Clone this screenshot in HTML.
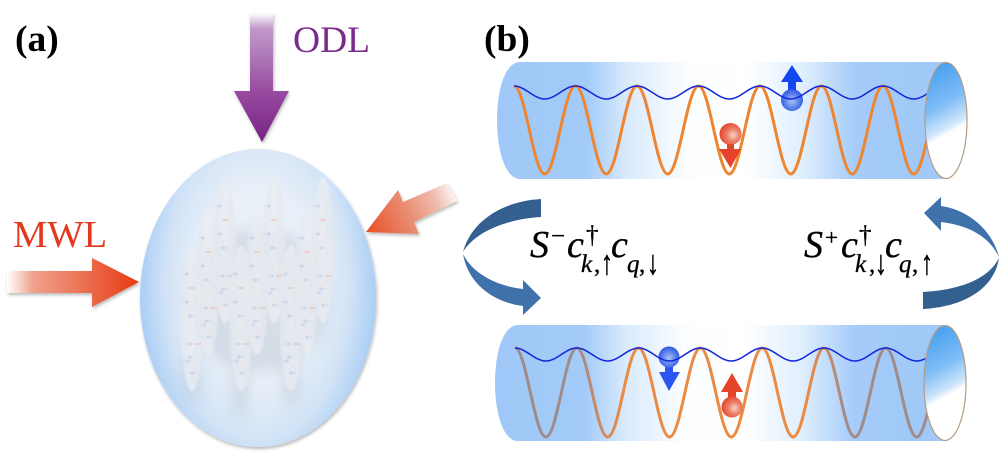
<!DOCTYPE html>
<html><head><meta charset="utf-8"><style>
html,body{margin:0;padding:0;background:#fff}
svg{display:block}
text{font-family:"Liberation Serif",serif}
.m{stroke:#000;stroke-width:.35}
</style></head><body>
<svg width="1000" height="456" viewBox="0 0 1000 456" xmlns="http://www.w3.org/2000/svg">
<defs>
<radialGradient id="egg" gradientUnits="userSpaceOnUse" cx="258" cy="285" r="1" gradientTransform="translate(258 285) scale(122 205) translate(-258 -285)">
<stop offset="0" stop-color="#eff3f8"/><stop offset=".5" stop-color="#e7eff8"/><stop offset=".76" stop-color="#d2e3f6"/><stop offset="1" stop-color="#a4cbf5"/>
</radialGradient>
<linearGradient id="cig" x1="0" y1="0" x2="1" y2="0"><stop offset="0" stop-color="#e4e8ee"/><stop offset=".5" stop-color="#ebeef3"/><stop offset="1" stop-color="#e2e7ed"/></linearGradient>
<linearGradient id="pur" gradientUnits="userSpaceOnUse" x1="0" y1="13" x2="0" y2="142"><stop offset="0" stop-color="#fff"/><stop offset=".12" stop-color="#c19acb"/><stop offset=".6" stop-color="#984c9f"/><stop offset="1" stop-color="#772287"/></linearGradient>
<linearGradient id="red1" gradientUnits="userSpaceOnUse" x1="7" y1="0" x2="139" y2="0"><stop offset="0" stop-color="#fff"/><stop offset=".2" stop-color="#f0a18b"/><stop offset="1" stop-color="#e63a12"/></linearGradient>
<linearGradient id="red2" gradientUnits="userSpaceOnUse" x1="457" y1="190" x2="366" y2="232"><stop offset="0" stop-color="#fff"/><stop offset=".25" stop-color="#efb9aa"/><stop offset=".55" stop-color="#e98c72"/><stop offset="1" stop-color="#e84f26"/></linearGradient>
<linearGradient id="tube" x1="0" y1="0" x2="1" y2="0">
<stop offset="0" stop-color="#9fc8f8"/><stop offset=".2" stop-color="#a3cbf9"/><stop offset=".29" stop-color="#d9eafc"/><stop offset=".42" stop-color="#fbfdff"/><stop offset=".55" stop-color="#fff"/><stop offset=".68" stop-color="#e0effd"/><stop offset=".8" stop-color="#a4cbf9"/><stop offset="1" stop-color="#9fc8f8"/>
</linearGradient>
<linearGradient id="cap" x1=".4" y1="0" x2=".6" y2="1"><stop offset="0" stop-color="#46a0f0"/><stop offset=".35" stop-color="#7fbdf6"/><stop offset=".56" stop-color="#cfe6fb"/><stop offset=".62" stop-color="#fff"/><stop offset="1" stop-color="#fff"/></linearGradient>
<linearGradient id="og" gradientUnits="userSpaceOnUse" x1="514" y1="0" x2="930" y2="0">
<stop offset="0" stop-color="#a08b8a"/><stop offset=".14" stop-color="#a08b8a"/><stop offset=".26" stop-color="#e98a45"/><stop offset=".7" stop-color="#ee8a40"/><stop offset=".8" stop-color="#a08b8a"/><stop offset="1" stop-color="#a08b8a"/>
</linearGradient>
<radialGradient id="bb" cx=".5" cy=".55" r=".55"><stop offset="0" stop-color="#a9c4f6"/><stop offset=".6" stop-color="#5a80ea"/><stop offset="1" stop-color="#2f55e4"/></radialGradient>
<radialGradient id="rb" cx=".62" cy=".55" r=".6"><stop offset="0" stop-color="#f8d0c4"/><stop offset=".5" stop-color="#ec7d66"/><stop offset="1" stop-color="#e3492f"/></radialGradient>
<filter id="sh" x="-20%" y="-20%" width="140%" height="140%"><feDropShadow dx="1" dy="2" stdDeviation="1.5" flood-color="#000" flood-opacity=".28"/></filter>
<filter id="b1" x="-50%" y="-20%" width="200%" height="140%"><feGaussianBlur stdDeviation=".7"/></filter>
<filter id="b2" x="-100%" y="-30%" width="300%" height="160%"><feGaussianBlur stdDeviation="7"/></filter>
<g id="cigar">
<ellipse cx="0" cy="0" rx="11.500" ry="73" fill="url(#cig)" opacity=".8" filter="url(#b1)"/>
<path d="M0,-55L6,-43L-1,-31L5,-19L-2,-7L5,5L-2,17L5,29L-2,41L4,53" fill="none" stroke="#f0c8b4" stroke-width=".6" opacity=".25"/>
<g fill="#a9bde8" opacity=".4">
<circle cx="-5" cy="-44" r="1.8"/><rect x="-10" y="-44.500" width="5" height="1"/>
<circle cx="-5" cy="-16" r="1.800"/><rect x="-10" y="-16.500" width="5" height="1"/>
<circle cx="-2" cy="-2" r="1.800"/><rect x="-2" y="-2.500" width="5" height="1"/>
<circle cx="-2" cy="26" r="1.800"/><rect x="-7" y="25.500" width="5" height="1"/>
<circle cx="-2" cy="39" r="1.800"/><rect x="-2" y="38.500" width="5" height="1"/>
<circle cx="-4" cy="43" r="1.800"/><rect x="-9" y="42.500" width="5" height="1"/>
<circle cx="0" cy="55" r="1.800"/><rect x="0" y="54.500" width="5" height="1"/>
</g>
<g fill="#eab0a4" opacity=".4"><rect x="-3" y="-31" width="6" height="2"/><rect x="2" y="25" width="7" height="2"/></g>
</g>
</defs>

<text x="15" y="51" font-size="37.5" font-weight="bold">(a)</text>
<text x="293" y="52" font-size="37.5" fill="#7b2a8c">ODL</text>
<text x="13" y="247" font-size="38.500" fill="#e2391f">MWL</text>

<path d="M250,13H273V91H289L262,142L234,91H250Z" fill="url(#pur)" filter="url(#sh)"/>
<path d="M7,271H92V258L139,282L92,307V293H7Z" fill="url(#red1)" filter="url(#sh)"/>
<path d="M457,201L414,222L419,234L366,232L398,190L403,202L447,183Z" fill="url(#red2)" filter="url(#sh)"/>

<ellipse cx="258" cy="298" rx="118" ry="149" fill="url(#egg)" filter="url(#sh)"/>
<g filter="url(#b2)">
<ellipse cx="258" cy="300" rx="72" ry="72" fill="#c6d0dc" opacity=".6"/>
<g fill="#aab5c4" opacity=".35">
<ellipse cx="240" cy="390" rx="8" ry="28"/><ellipse cx="192" cy="378" rx="8" ry="24"/><ellipse cx="291" cy="382" rx="8" ry="26"/>
</g>
</g>
<use href="#cigar" x="225" y="250"/><use href="#cigar" x="274" y="250"/><use href="#cigar" x="323" y="250"/>
<use href="#cigar" x="208" y="282"/><use href="#cigar" x="257" y="282"/><use href="#cigar" x="307" y="282"/>
<use href="#cigar" x="192" y="318"/><use href="#cigar" x="241" y="318"/><use href="#cigar" x="291" y="318"/>

<text x="484" y="51" font-size="37.5" font-weight="bold">(b)</text>

<path d="M520,62H946V179H520C505,179 497,150 497,120S505,62 520,62Z" fill="url(#tube)"/>
<path d="M514,86c11.200,0 19.500,88 30.750,88s19.500,-88 30.750,-88c11.200,0 19.500,88 30.750,88s19.500,-88 30.750,-88c11.200,0 19.500,88 30.750,88s19.500,-88 30.750,-88c11.200,0 19.500,88 30.750,88s19.500,-88 30.750,-88c11.200,0 19.500,88 30.750,88s19.500,-88 30.750,-88c11.200,0 19.500,88 30.750,88s19.500,-88 30.750,-88c11.200,0 19.500,88 30.750,88s19.500,-88 30.750,-88" fill="none" stroke="#ee8530" stroke-width="3"/>
<path d="M792,65L803,82H796V92H788V82H781Z" fill="#1347f0"/>
<circle cx="792" cy="100" r="11" fill="url(#bb)"/>
<path d="M514,86c11.200,0 19.500,13 30.750,13s19.500,-13 30.750,-13c11.200,0 19.500,13 30.750,13s19.500,-13 30.750,-13c11.200,0 19.500,13 30.750,13s19.500,-13 30.750,-13c11.200,0 19.500,13 30.750,13s19.500,-13 30.750,-13c11.200,0 19.500,13 30.750,13s19.500,-13 30.750,-13c11.200,0 19.500,13 30.750,13s19.500,-13 30.750,-13c11.200,0 19.500,13 30.750,13s19.500,-13 30.750,-13" fill="none" stroke="#1226dc" stroke-width="1.5"/>
<circle cx="730.500" cy="134" r="11" fill="url(#rb)"/>
<path d="M727,144H734V149H741L730.500,168L719,149H727Z" fill="#e5432a"/>
<ellipse cx="946" cy="120.500" rx="21" ry="58" fill="url(#cap)" stroke="#b39d85" stroke-width="1.2"/>

<path d="M518,325H945V441H518C503,441 495,413 495,383S503,325 518,325Z" fill="url(#tube)"/>
<path d="M515,348c11.200,0 19.500,89 30.900,89s19.500,-89 30.900,-89c11.200,0 19.500,89 30.900,89s19.500,-89 30.900,-89c11.200,0 19.500,89 30.900,89s19.500,-89 30.900,-89c11.200,0 19.500,89 30.900,89s19.500,-89 30.900,-89c11.200,0 19.500,89 30.900,89s19.500,-89 30.900,-89c11.200,0 19.500,89 30.900,89s19.500,-89 30.900,-89c11.200,0 19.500,89 30.900,89s19.500,-89 30.900,-89" fill="none" stroke="url(#og)" stroke-width="3"/>
<path d="M665,365H673V372H680L669,391L659,372H665Z" fill="#2b55ee"/>
<circle cx="669" cy="357" r="10.500" fill="url(#bb)"/>
<path d="M515,348c11.200,0 19.500,13 30.900,13s19.500,-13 30.900,-13c11.200,0 19.500,13 30.900,13s19.500,-13 30.900,-13c11.200,0 19.500,13 30.900,13s19.500,-13 30.900,-13c11.200,0 19.500,13 30.900,13s19.500,-13 30.900,-13c11.200,0 19.500,13 30.900,13s19.500,-13 30.900,-13c11.200,0 19.500,13 30.900,13s19.500,-13 30.900,-13c11.200,0 19.500,13 30.900,13s19.500,-13 30.900,-13" fill="none" stroke="#1226dc" stroke-width="1.5"/>
<path d="M732,373L743,392H736V400H728V392H721Z" fill="#e5432a"/>
<circle cx="732" cy="407" r="10.500" fill="url(#rb)"/>
<ellipse cx="945" cy="383" rx="21" ry="57.500" fill="url(#cap)" stroke="#b39d85" stroke-width="1.2"/>

<path d="M541,199C505,201 472,219 463,252C474,233 505,219 541,217Z" fill="#34608f"/>
<path d="M463,254C468,283 492,302 523,306V315L541,298L523,280V289C497,286 473,274 463,254Z" fill="#3f71ab"/>
<path d="M923,292C958,290 988,280 999,258C994,290 962,307 923,309Z" fill="#34608f"/>
<path d="M999,257C993,232 970,210 941,206V197L924,213L941,231V222C965,225 988,234 999,257Z" fill="#3f71ab"/>

<g fill="#000" class="m">
<text x="530" y="257" font-size="38" font-style="italic">S</text>
<text x="551" y="244" font-size="25">−</text>
<text x="567" y="257" font-size="38" font-style="italic">c</text>
<text x="586" y="243" font-size="25">†</text>
<text x="581" y="272" font-size="25" font-style="italic">k</text>
<text x="594" y="272" font-size="25">,</text>
<text transform="translate(601 274) scale(1.2 1.7)" font-size="20">↑</text>
<text x="611" y="257" font-size="38" font-style="italic">c</text>
<text x="627" y="272" font-size="25" font-style="italic">q</text>
<text x="639" y="272" font-size="25">,</text>
<text transform="translate(647 274) scale(1.2 1.7)" font-size="20">↓</text>

<text x="804" y="257" font-size="38" font-style="italic">S</text>
<text x="825" y="245" font-size="23">+</text>
<text x="841" y="257" font-size="38" font-style="italic">c</text>
<text x="859" y="243" font-size="25">†</text>
<text x="855" y="272" font-size="25" font-style="italic">k</text>
<text x="869" y="272" font-size="25">,</text>
<text transform="translate(875 274) scale(1.2 1.7)" font-size="20">↓</text>
<text x="885" y="257" font-size="38" font-style="italic">c</text>
<text x="899" y="272" font-size="25" font-style="italic">q</text>
<text x="912" y="272" font-size="25">,</text>
<text transform="translate(921 274) scale(1.2 1.7)" font-size="20">↑</text>
</g>
</svg>
</body></html>
